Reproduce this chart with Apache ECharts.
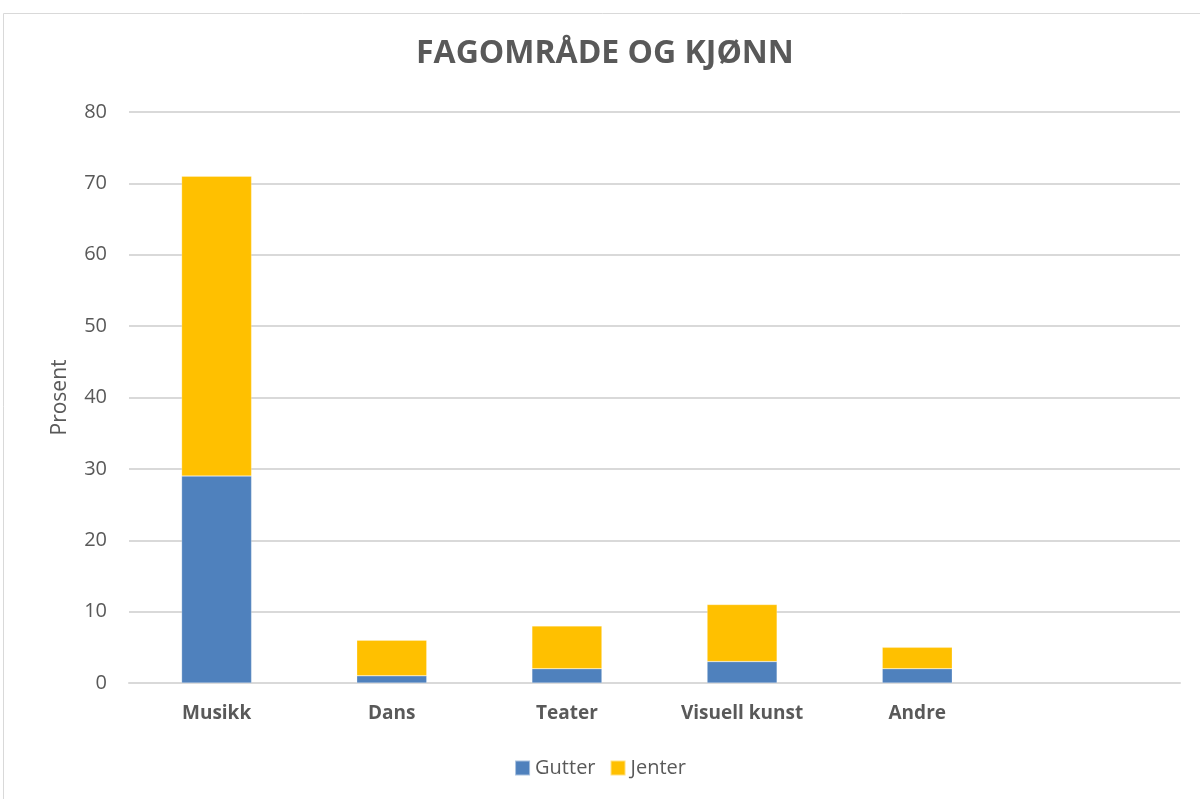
<!DOCTYPE html>
<html>
<head>
<meta charset="utf-8">
<script src="https://cdn.jsdelivr.net/npm/echarts@6/dist/echarts.min.js"></script>
<style>
html,body{margin:0;padding:0;background:#fff;}
#chart{width:1200px;height:799px;}
</style>
</head>
<body>
<div id="chart"></div>
<script>
var categories=['Musikk','Dans','Teater','Visuell kunst','Andre',''];
var gutter=[29,1,2,3,2,null];
var jenter=[42,5,6,8,3,null];
var yTicks=[0,10,20,30,40,50,60,70,80];

function chart1(){
	var myChart = echarts.init(document.getElementById('chart'));
	var fontName='"Open Sans", "Noto Sans", sans-serif';
	var option = {
		animation:false,
		graphic:[{
			type:'rect',
			shape:{x:3.5,y:13.5,width:1210,height:800},
			style:{fill:'none',stroke:'#d9d9d9',lineWidth:1}
		}],
		title:{
			text:'FAGOMRÅDE OG KJØNN',
			left:416,
			top:38,
			padding:0,
			textStyle:{
				fontFamily:fontName,
				fontSize:32,
				fontWeight:'bold',
				color:'#595959'
			}
		},
		legend:{
			bottom:16,
			left:'center',
			itemWidth:15,
			itemHeight:15,
			itemGap:14,
			icon:'rect',
			textStyle:{fontFamily:fontName,fontSize:20,color:'#595959'},
			data:['Gutter','Jenter']
		},
		grid:{
			left:129,
			right:20,
			top:112,
			bottom:116
		},
		xAxis:{
			type:'category',
			data:categories,
			axisTick:{show:false},
			axisLine:{show:true,lineStyle:{color:'#d9d9d9',width:2}},
			axisLabel:{
				fontFamily:fontName,
				fontSize:19,
				fontWeight:'bold',
				color:'#595959',
				margin:21
			}
		},
		yAxis:{
			type:'value',
			min:yTicks[0],
			max:yTicks[yTicks.length-1],
			interval:10,
			name:'Prosent',
			nameLocation:'middle',
			nameGap:58,
			nameTextStyle:{fontFamily:fontName,fontSize:21,color:'#595959'},
			axisLine:{show:false},
			axisTick:{show:false},
			axisLabel:{fontFamily:fontName,fontSize:20,color:'#595959',margin:22},
			splitLine:{lineStyle:{color:'#d9d9d9',width:2}}
		},
		series:[
			{
				name:'Gutter',
				type:'bar',
				stack:'total',
				barWidth:70,
				itemStyle:{color:'#4f81bd',borderColor:'rgba(255,255,255,0.5)',borderWidth:0.5},
				data:gutter
			},
			{
				name:'Jenter',
				type:'bar',
				stack:'total',
				barWidth:70,
				itemStyle:{color:'#ffc000',borderColor:'rgba(255,255,255,0.5)',borderWidth:0.5},
				data:jenter
			}
		]
	};
	myChart.setOption(option);
	window.addEventListener("resize",function() {
		myChart.resize();
	})
}

chart1();
</script>
</body>
</html>
